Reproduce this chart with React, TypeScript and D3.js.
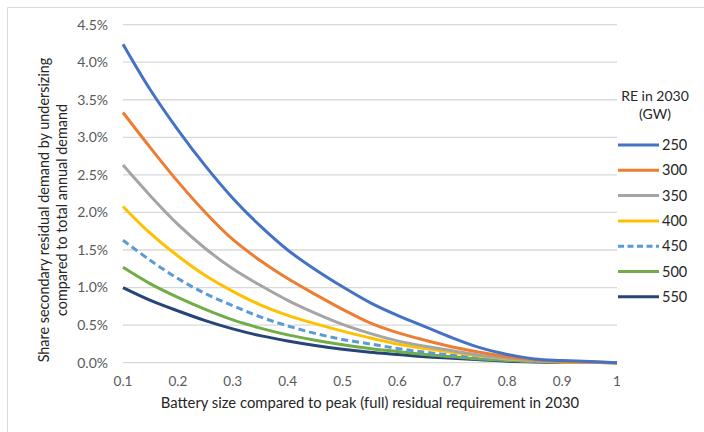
import React from "react";
import * as d3 from "d3";

const xValues = [0.1, 0.15, 0.2, 0.25, 0.3, 0.35, 0.4, 0.45, 0.5, 0.55, 0.6, 0.65, 0.7, 0.75, 0.8, 0.85, 0.9, 0.95, 1.0];

const re250 = [4.24, 3.63, 3.1, 2.62, 2.19, 1.82, 1.5, 1.24, 1.01, 0.8, 0.63, 0.48, 0.33, 0.2, 0.11, 0.05, 0.03, 0.015, 0.0];
const re300 = [3.33, 2.86, 2.41, 2.0, 1.64, 1.36, 1.12, 0.91, 0.71, 0.53, 0.4, 0.3, 0.21, 0.14, 0.08, 0.04, 0.02, 0.01, 0.0];
const re350 = [2.63, 2.22, 1.84, 1.52, 1.25, 1.03, 0.83, 0.66, 0.51, 0.39, 0.29, 0.22, 0.16, 0.1, 0.06, 0.03, 0.015, 0.005, 0.0];
const re400 = [2.08, 1.72, 1.42, 1.16, 0.95, 0.77, 0.63, 0.52, 0.42, 0.33, 0.25, 0.19, 0.14, 0.09, 0.05, 0.03, 0.01, 0.005, 0.0];
const re450 = [1.63, 1.36, 1.12, 0.92, 0.76, 0.61, 0.49, 0.39, 0.31, 0.25, 0.19, 0.14, 0.1, 0.07, 0.04, 0.02, 0.01, 0.005, 0.0];
const re500 = [1.27, 1.05, 0.87, 0.71, 0.57, 0.46, 0.37, 0.3, 0.24, 0.19, 0.15, 0.11, 0.08, 0.05, 0.03, 0.015, 0.008, 0.003, 0.0];
const re550 = [1.0, 0.83, 0.69, 0.56, 0.45, 0.36, 0.29, 0.23, 0.18, 0.14, 0.11, 0.08, 0.06, 0.04, 0.02, 0.01, 0.005, 0.002, 0.0];

const seriesNames = ["250", "300", "350", "400", "450", "500", "550"];
const seriesValues = [re250, re300, re350, re400, re450, re500, re550];
const seriesColors = ["#4472C4", "#ED7D31", "#A5A5A5", "#FFC000", "#5B9BD5", "#70AD47", "#264478"];
const seriesDashed = [false, false, false, false, true, false, false];

const xTicks = [0.1, 0.2, 0.3, 0.4, 0.5, 0.6, 0.7, 0.8, 0.9, 1];
const yTicks = [0, 0.5, 1.0, 1.5, 2.0, 2.5, 3.0, 3.5, 4.0, 4.5];

const yTitleLines = ["Share secondary residual demand by undersizing", "compared to total annual demand"];
const xTitle = "Battery size compared to peak (full) residual requirement in 2030";
const legendTitle = ["RE in 2030", "(GW)"];

const FONT = "Lato, 'Open Sans', sans-serif";

export default function App() {
  const W = 704;
  const H = 432;
  const x = d3.scaleLinear().domain([0.1, 1]).range([123, 617]);
  const y = d3.scaleLinear().domain([0, 4.5]).range([362.7, 24.6]);
  const line = d3
    .line<[number, number]>()
    .x((d) => x(d[0]))
    .y((d) => y(Math.max(0, d[1])))
    .curve(d3.curveCatmullRom.alpha(0.5));

  const legendX = 618;
  const legendY0 = 145;
  const legendStep = 25.3;

  return (
    <svg
      width={W}
      height={H}
      style={{ position: "absolute", left: 0, top: 0, background: "#fff" }}
      fontFamily={FONT}
    >
      <rect x={0} y={0} width={W} height={H} fill="#fff" />
      <line x1={7.5} y1={7.5} x2={W} y2={7.5} stroke="#D9D9D9" strokeWidth={1} />
      <line x1={7.5} y1={7.5} x2={7.5} y2={H} stroke="#D9D9D9" strokeWidth={1} />

      {yTicks.map((t) => (
        <g key={"y" + t}>
          <line x1={x(0.1)} x2={x(1)} y1={y(t)} y2={y(t)} stroke="#D9D9D9" strokeWidth={1.3} />
          <text x={108} y={y(t)} dy="0.35em" textAnchor="end" fontSize={14} fill="#595959">
            {t.toFixed(1) + "%"}
          </text>
        </g>
      ))}

      {xTicks.map((t) => (
        <text key={"x" + t} x={x(t)} y={381} dy="0.35em" textAnchor="middle" fontSize={13.5} fill="#595959">
          {String(t)}
        </text>
      ))}

      {seriesValues.map((vals, i) => (
        <path
          key={seriesNames[i]}
          d={line(xValues.map((xv, j) => [xv, vals[j]] as [number, number])) || ""}
          fill="none"
          stroke={seriesColors[i]}
          strokeWidth={3}
          strokeDasharray={seriesDashed[i] ? "7,4" : undefined}
          strokeLinejoin="round"
        />
      )).reverse()}

      <text x={370} y={403} dy="0.35em" textAnchor="middle" fontSize={14.8} fill="#262626">
        {xTitle}
      </text>

      {yTitleLines.map((l, i) => (
        <text
          key={"yt" + i}
          transform={`translate(${44 + i * 18},210) rotate(-90)`}
          dy="0.35em"
          textAnchor="middle"
          fontSize={14.4}
          fill="#262626"
        >
          {l}
        </text>
      ))}

      {legendTitle.map((l, i) => (
        <text key={"lt" + i} x={655} y={96 + i * 18} dy="0.35em" textAnchor="middle" fontSize={14} fill="#262626">
          {l}
        </text>
      ))}

      {seriesNames.map((n, i) => (
        <g key={"lg" + n}>
          <line
            x1={legendX}
            x2={legendX + 41}
            y1={legendY0 + i * legendStep}
            y2={legendY0 + i * legendStep}
            stroke={seriesColors[i]}
            strokeWidth={3}
            strokeDasharray={seriesDashed[i] ? "6,3.5" : undefined}
          />
          <text x={legendX + 44} y={legendY0 + i * legendStep} dy="0.35em" fontSize={14.5} fill="#262626">
            {n}
          </text>
        </g>
      ))}
    </svg>
  );
}
